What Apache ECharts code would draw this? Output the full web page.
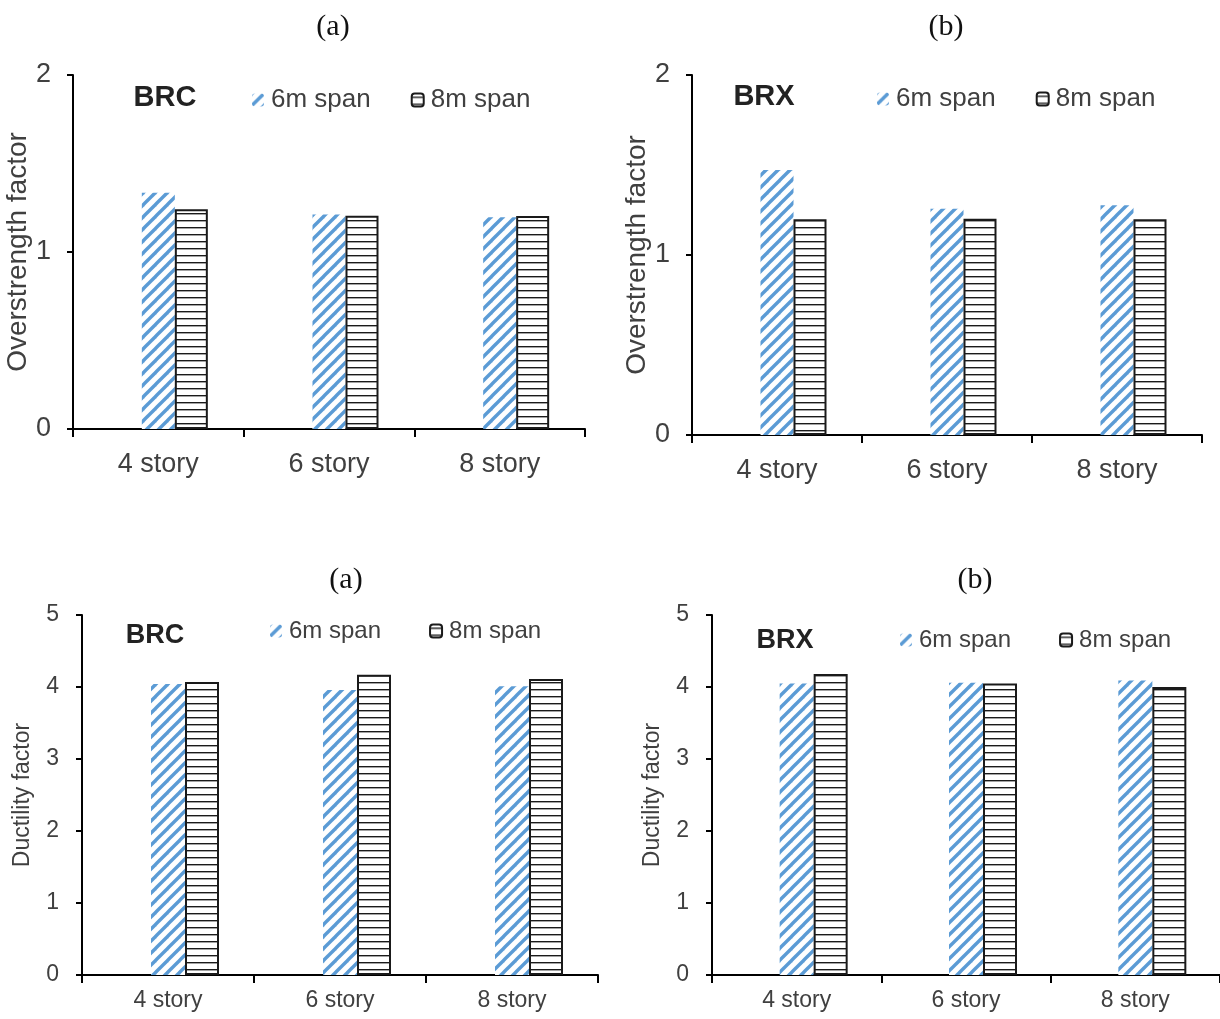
<!DOCTYPE html>
<html>
<head>
<meta charset="utf-8">
<script src="https://cdn.jsdelivr.net/npm/echarts@6/dist/echarts.min.js"></script>
<style>
html,body{margin:0;padding:0;background:#fff;}
#chart{width:1220px;height:1019px;}
</style>
</head>
<body>
<div id="chart"></div>
<script>
// ---------- data ----------
const categories = ['4 story', '6 story', '8 story'];
const seriesNames = ['6m span', '8m span'];
// Overstrength factor
const brcOver6m = [1.335, 1.212, 1.196];
const brcOver8m = [1.242, 1.205, 1.204];
const brxOver6m = [1.472, 1.257, 1.276];
const brxOver8m = [1.198, 1.202, 1.198];
// Ductility factor
const brcDuct6m = [4.04, 3.96, 4.01];
const brcDuct8m = [4.07, 4.17, 4.11];
const brxDuct6m = [4.05, 4.06, 4.09];
const brxDuct8m = [4.18, 4.05, 4.00];
// empty first slot in each cluster (as in the source chart)
const emptySlot = ['-', '-', '-'];
const overTicks = { min: 0, max: 2, interval: 1 };
const ductTicks = { min: 0, max: 5, interval: 1 };

// ---------- patterns ----------
function hatchPattern() {
  const s = 12, c = document.createElement('canvas');
  c.width = s; c.height = s;
  const g = c.getContext('2d');
  g.fillStyle = '#ffffff'; g.fillRect(0, 0, s, s);
  g.strokeStyle = '#5b9bd5'; g.lineWidth = 3.4; g.lineCap = 'square';
  for (let k = -1; k <= 1; k++) {
    g.beginPath(); g.moveTo(k * s, s); g.lineTo(k * s + s, 0); g.stroke();
  }
  return { image: c, repeat: 'repeat' };
}
function stripePattern() {
  const w = 8, h = 7, c = document.createElement('canvas');
  c.width = w; c.height = h;
  const g = c.getContext('2d');
  g.fillStyle = '#ffffff'; g.fillRect(0, 0, w, h);
  g.fillStyle = '#1a1a1a'; g.fillRect(0, 3, w, 1.4);
  return { image: c, repeat: 'repeat' };
}
const hatch = hatchPattern();
const stripe = stripePattern();

const FONT = "'Liberation Sans', Arial, sans-serif";
const SERIF = "'Liberation Serif', 'Times New Roman', serif";
const TXT = '#404040';

const panels = [
  { grid: { left: 73, top: 75, width: 512, height: 354 }, ticks: overTicks, name: 'Overstrength factor',
    nameGap: 35, nameSize: 28, tickSize: 27, catSize: 27, catMargin: 22, labelMargin: 22, barW: 33,
    d6: brcOver6m, d8: brcOver8m },
  { grid: { left: 692, top: 75, width: 510, height: 360 }, ticks: overTicks, name: 'Overstrength factor',
    nameGap: 38, nameSize: 28, tickSize: 27, catSize: 27, catMargin: 22, labelMargin: 22, barW: 33,
    d6: brxOver6m, d8: brxOver8m },
  { grid: { left: 82, top: 615, width: 516, height: 360 }, ticks: ductTicks, name: 'Ductility factor',
    nameGap: 48, nameSize: 23, tickSize: 23, catSize: 23, catMargin: 14, labelMargin: 23, barW: 34,
    d6: brcDuct6m, d8: brcDuct8m },
  { grid: { left: 712, top: 615, width: 516, height: 360 }, ticks: ductTicks, name: 'Ductility factor',
    nameGap: 48, nameSize: 23, tickSize: 23, catSize: 23, catMargin: 14, labelMargin: 23, barW: 34,
    d6: brxDuct6m, d8: brxDuct8m }
];

const grid = [], xAxis = [], yAxis = [], series = [];
panels.forEach((p, i) => {
  grid.push(Object.assign({ containLabel: false }, p.grid));
  xAxis.push({
    type: 'category', gridIndex: i, data: categories,
    axisLine: { lineStyle: { color: '#000', width: 2 } },
    axisTick: { show: true, length: 8, lineStyle: { color: '#000', width: 2 } },
    axisLabel: { color: TXT, fontSize: p.catSize, fontFamily: FONT, margin: p.catMargin },
    splitLine: { show: false }
  });
  yAxis.push({
    type: 'value', gridIndex: i, min: p.ticks.min, max: p.ticks.max, interval: p.ticks.interval,
    name: p.name, nameLocation: 'middle', nameGap: p.nameGap, nameRotate: 90,
    nameTextStyle: { color: TXT, fontSize: p.nameSize, fontFamily: FONT },
    axisLine: { show: true, lineStyle: { color: '#000', width: 2 } },
    axisTick: { show: true, length: 6, lineStyle: { color: '#000', width: 2 } },
    axisLabel: { color: TXT, fontSize: p.tickSize, fontFamily: FONT, margin: p.labelMargin },
    splitLine: { show: false }
  });
  series.push({
    type: 'bar', name: 'empty', xAxisIndex: i, yAxisIndex: i, data: emptySlot,
    barWidth: p.barW, barGap: '0%', silent: true
  });
  series.push({
    type: 'bar', name: seriesNames[0], xAxisIndex: i, yAxisIndex: i, data: p.d6,
    barWidth: p.barW, barGap: '0%',
    itemStyle: { color: hatch, borderWidth: 0 }
  });
  series.push({
    type: 'bar', name: seriesNames[1], xAxisIndex: i, yAxisIndex: i, data: p.d8,
    barWidth: p.barW, barGap: '0%',
    itemStyle: { color: stripe, borderColor: '#1a1a1a', borderWidth: 2 }
  });
});

function legendAt(left, top, size, gap) {
  return {
    data: seriesNames, left: left, top: top, orient: 'horizontal', padding: 0,
    itemWidth: 12, itemHeight: 13, itemGap: gap, selectedMode: false,
    textStyle: { color: TXT, fontSize: size, fontFamily: FONT, padding: [0, 0, 0, 2] }
  };
}

function label(x, y, text, size, bold, family, color) {
  return {
    type: 'text', x: x, y: y, silent: true,
    style: { text: text, fill: color || '#1a1a1a', fontSize: size, fontWeight: bold ? 'bold' : 'normal',
             fontFamily: family || FONT, align: 'center', verticalAlign: 'middle' }
  };
}

const option = {
  backgroundColor: '#fff',
  animation: false,
  grid: grid, xAxis: xAxis, yAxis: yAxis, series: series,
  legend: [
    legendAt(252, 87, 26, 40),
    legendAt(877, 86, 26, 40),
    legendAt(270, 619, 24, 48),
    legendAt(900, 628, 24, 48)
  ],
  graphic: [
    label(333, 27, '(a)', 30, false, SERIF, '#111'),
    label(946, 27, '(b)', 30, false, SERIF, '#111'),
    label(346, 580, '(a)', 30, false, SERIF, '#111'),
    label(975, 580, '(b)', 30, false, SERIF, '#111'),
    label(165, 98, 'BRC', 29, true, FONT, '#222'),
    label(764, 97, 'BRX', 29, true, FONT, '#222'),
    label(155, 636, 'BRC', 27, true, FONT, '#222'),
    label(785, 641, 'BRX', 27, true, FONT, '#222')
  ]
};

const chart = echarts.init(document.getElementById('chart'), null, { renderer: 'canvas' });
chart.setOption(option);
</script>
</body>
</html>
